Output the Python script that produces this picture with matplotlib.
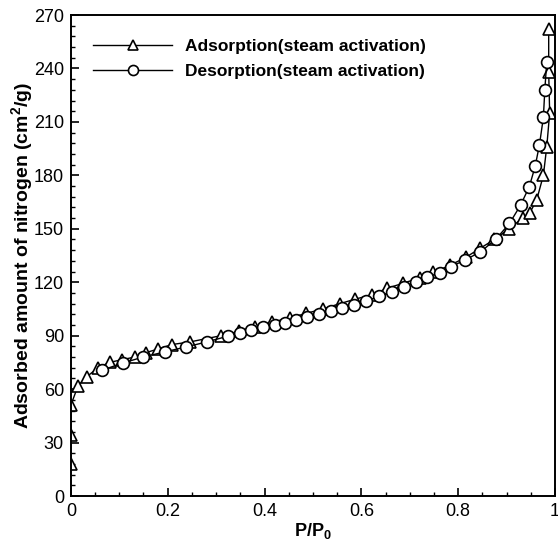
import matplotlib
matplotlib.use("Agg")
import matplotlib.pyplot as plt
from matplotlib.ticker import MultipleLocator

plt.rcParams['font.family'] = ['Liberation Sans', 'DejaVu Sans']
plt.rcParams['mathtext.fontset'] = 'custom'
plt.rcParams['mathtext.rm'] = 'Liberation Sans'
plt.rcParams['mathtext.bf'] = 'Liberation Sans:bold'
plt.rcParams['mathtext.it'] = 'Liberation Sans:italic'

# Adsorption (triangles)
ads_x = [0.0, 0.0, 0.0, 0.015, 0.033, 0.056, 0.08, 0.105, 0.132, 0.155, 0.18, 0.208,
         0.246, 0.31, 0.348, 0.38, 0.415, 0.452, 0.486, 0.52, 0.556, 0.587, 0.623,
         0.652, 0.687, 0.721, 0.749, 0.783, 0.816, 0.845, 0.875, 0.905, 0.933, 0.948,
         0.962, 0.976, 0.983, 0.989, 0.987, 0.987]
ads_y = [18, 34, 51, 62, 67, 72, 75, 76.5, 78, 80.5, 82.5, 85,
         86.5, 90, 92.5, 95, 97.5, 100, 102.5, 105, 108, 110.5, 113,
         116.5, 119.5, 122.5, 125.5, 129.5, 134, 139, 144, 150, 156, 159,
         166, 180, 196, 215, 238, 262]

# Desorption (circles)
des_x = [0.065, 0.108, 0.149, 0.194, 0.238, 0.281, 0.325, 0.349, 0.373, 0.397, 0.421,
         0.442, 0.465, 0.488, 0.513, 0.537, 0.561, 0.585, 0.610, 0.637, 0.663, 0.688,
         0.713, 0.736, 0.762, 0.786, 0.814, 0.846, 0.878, 0.906, 0.929, 0.947, 0.959,
         0.968, 0.976, 0.979, 0.983]
des_y = [70.7, 74.7, 78, 80.9, 83.7, 86.5, 89.8, 91.5, 93, 95, 96,
         97.3, 98.8, 100.3, 102, 104, 105.4, 107.5, 109.5, 112, 114.5, 117.3,
         120.3, 122.8, 125.4, 128.8, 132.5, 137, 144.2, 153, 163.3, 173.7, 185,
         197.3, 212.5, 228, 243.8]

ads_label = 'Adsorption(steam activation)'
des_label = 'Desorption(steam activation)'

fig = plt.figure(figsize=(5.58, 5.44), dpi=100)
ax = fig.add_axes([0.127, 0.0882, 0.8676, 0.8842])

ax.plot(ads_x, ads_y, color='black', lw=1.0, marker='^', ms=8, mfc='white',
        mec='black', mew=1.2, label=ads_label)
ax.plot(des_x, des_y, color='black', lw=1.0, marker='o', ms=8.5, mfc='white',
        mec='black', mew=1.2, label=des_label)

ax.set_xlim(0, 1)
ax.set_ylim(0, 270)
ax.xaxis.set_major_locator(MultipleLocator(0.2))
ax.xaxis.set_minor_locator(MultipleLocator(0.05))
ax.yaxis.set_major_locator(MultipleLocator(30))
ax.yaxis.set_minor_locator(MultipleLocator(6))
ax.set_xticks([0, 0.2, 0.4, 0.6, 0.8, 1.0])
ax.set_xticklabels(['0', '0.2', '0.4', '0.6', '0.8', '1'])

ax.tick_params(which='major', direction='in', length=6, width=1.2, labelsize=13, pad=5)
ax.tick_params(which='minor', direction='in', length=3, width=1.0)
for s in ax.spines.values():
    s.set_linewidth(1.4)

ax.set_xlabel(r'$\mathbf{P/P_0}$', fontsize=13, labelpad=1)
ax.set_ylabel(r'Adsorbed amount of nitrogen (cm$^\mathbf{2}$/g)', fontsize=14,
              fontweight='bold', labelpad=-1)

leg = ax.legend(loc='upper left', bbox_to_anchor=(0.027, 0.969), frameon=False,
                borderpad=0, handlelength=4.6, handletextpad=0.75, labelspacing=0.6,
                markerscale=0.85,
                prop={'weight': 'bold', 'size': 12.5})

fig.savefig('out.png', dpi=100)
